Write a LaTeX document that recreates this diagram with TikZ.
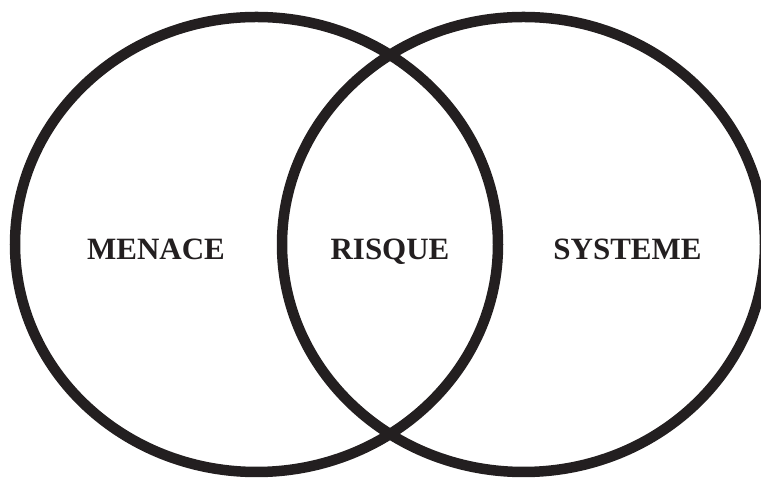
\documentclass[tikz,border=0pt]{standalone}
\usepackage{fontspec}
\setmainfont{Liberation Serif}
\usetikzlibrary{positioning}
\definecolor{ink}{RGB}{35,31,32}

\begin{document}
\begin{tikzpicture}[x=1pt,y=1pt,
  ring/.style={draw=ink,line width=10.5pt},
  lbl/.style={anchor=base,text=ink,font=\fontsize{31}{36}\selectfont\bfseries,inner sep=0pt}]
\useasboundingbox (0,0) rectangle (761,481);
\coordinate (cmenace) at (256.5,236.5);
\coordinate (csysteme) at (523.5,236.5);
\draw[ring] (cmenace) ellipse [x radius=241.5,y radius=227.5];
\draw[ring] (csysteme) ellipse [x radius=241.5,y radius=227.5];
\node[lbl] (menace) at (156,221) {MENACE};
\node[lbl] (risque) at (390,221) {RISQUE};
\node[lbl] (systeme) at (627.5,221) {SYSTEME};
\end{tikzpicture}
\end{document}
